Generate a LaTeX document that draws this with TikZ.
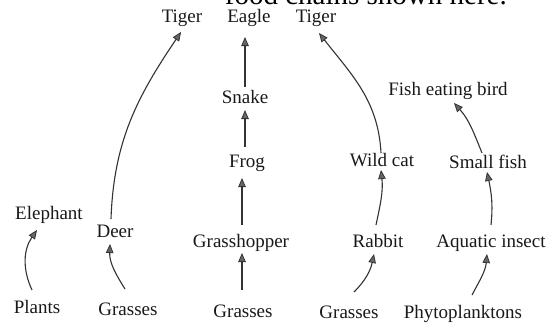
\documentclass[tikz,border=0pt]{standalone}
\usepackage{fontspec}
\setmainfont{Liberation Serif}
\usetikzlibrary{arrows.meta}
\begin{document}
\begin{tikzpicture}[x=1pt,y=1pt,
  lbl/.style={anchor=base,inner sep=0pt,outer sep=0pt,font=\fontsize{19}{22}\selectfont,text=black!90},
  arr/.style={draw=black!80,line width=1.1pt,-{Triangle[length=9pt,width=7.5pt,fill=black!60,line width=0.8pt]}}]
\useasboundingbox (0,0) rectangle (548,-324);
\clip (0,0) rectangle (548,-324);
\fill[white] (0,0) rectangle (548,-324);
% clipped caption line at the top
\node[anchor=base east,inner sep=0pt,font=\fontsize{29}{32}\selectfont] (cap) at (507,-5) {food chains shown here.};
% nodes
\node[lbl] (tigerL) at (182,-22) {Tiger};
\node[lbl] (eagle) at (249,-22) {Eagle};
\node[lbl] (tigerR) at (316,-22) {Tiger};
\node[lbl] (fishbird) at (448,-95) {Fish eating bird};
\node[lbl] (snake) at (245,-103) {Snake};
\node[lbl] (frog) at (247,-167) {Frog};
\node[lbl] (wildcat) at (382,-166) {Wild cat};
\node[lbl] (smallfish) at (488,-168) {Small fish};
\node[lbl] (elephant) at (49,-219) {Elephant};
\node[lbl] (deer) at (115,-237) {Deer};
\node[lbl] (grasshopper) at (241,-247) {Grasshopper};
\node[lbl] (rabbit) at (378,-247) {Rabbit};
\node[lbl] (aquatic) at (491,-247) {Aquatic insect};
\node[lbl] (plants) at (37,-313) {Plants};
\node[lbl] (grassesA) at (128,-315) {Grasses};
\node[lbl] (grassesB) at (243,-317) {Grasses};
\node[lbl] (grassesC) at (349,-318) {Grasses};
\node[lbl] (phyto) at (463,-318) {Phytoplanktons};
% connectors
\draw[arr] ([shift={(-5,23)}]plants.base) to[out=115,in=235] ([shift={(-12,-11)}]elephant.base);
\draw[arr] ([shift={(-3,26)}]grassesA.base) to[out=122,in=268] ([shift={(-5,-7)}]deer.base);
\draw[arr] ([shift={(-4,18)}]deer.base) to[out=88,in=236] ([shift={(-1,-10)}]tigerL.base);
\draw[arr] ([shift={(-1,27)}]grassesB.base) -- ([shift={(1,-6)}]grasshopper.base);
\draw[arr] ([shift={(1,22)}]grasshopper.base) -- ([shift={(-5,-11)}]frog.base);
\draw[arr] ([shift={(-2,20)}]frog.base) -- ([shift={(0,-7)}]snake.base);
\draw[arr] ([shift={(0,16)}]snake.base) -- ([shift={(-4,-15)}]eagle.base);
\draw[arr] ([shift={(5,26)}]grassesC.base) to[out=45,in=258] ([shift={(-4,-7)}]rabbit.base);
\draw[arr] ([shift={(-2,22)}]rabbit.base) to[out=78,in=276] ([shift={(-1,-4)}]wildcat.base);
\draw[arr] ([shift={(-1,13)}]wildcat.base) to[out=93,in=-52] ([shift={(3,-11)}]tigerR.base);
\draw[arr] ([shift={(9,23)}]phyto.base) to[out=62,in=265] ([shift={(-4,-7)}]aquatic.base);
\draw[arr] ([shift={(0,22)}]aquatic.base) to[out=84,in=282] ([shift={(-1,-4)}]smallfish.base);
\draw[arr] ([shift={(-6,15)}]smallfish.base) to[out=112,in=-48] ([shift={(6,-8)}]fishbird.base);
\end{tikzpicture}
\end{document}
